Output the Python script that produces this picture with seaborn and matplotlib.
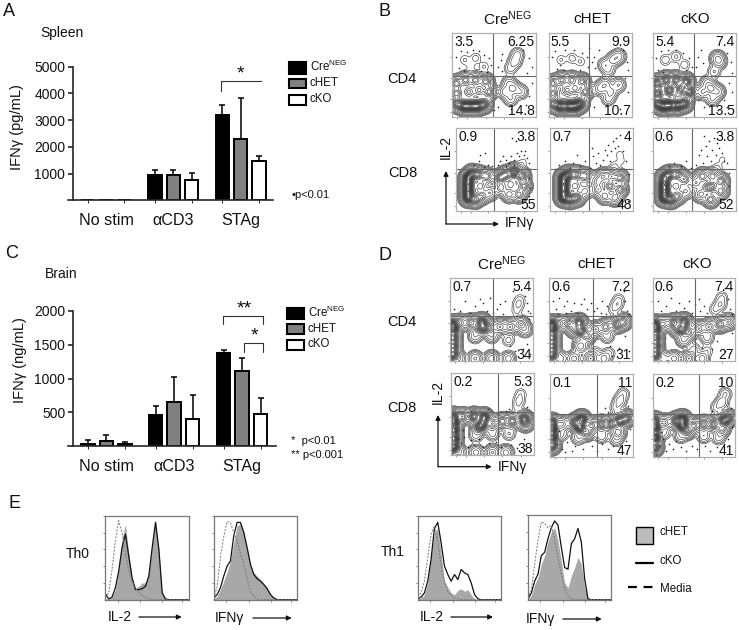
import matplotlib
matplotlib.use("Agg")
import matplotlib.pyplot as plt
import numpy as np
import pandas as pd
import seaborn as sns

# ---------------------------------------------------------
# 1. DATA
# ---------------------------------------------------------
stims = ["No stim", "αCD3", "STAg"]
genotypes = ["CreNEG", "cHET", "cKO"]

spleen_ticks = [1000, 2000, 3000, 4000, 5000]
spleen_neg = [0, 950, 3200]
spleen_het = [0, 950, 2300]
spleen_ko = [0, 760, 1480]
spleen_neg_top = [0, 1120, 3570]
spleen_het_top = [0, 1120, 3840]
spleen_ko_top = [0, 1020, 1670]

brain_ticks = [500, 1000, 1500, 2000]
brain_neg = [40, 470, 1380]
brain_het = [75, 660, 1110]
brain_ko = [40, 400, 480]
brain_neg_top = [90, 600, 1430]
brain_het_top = [160, 1020, 1310]
brain_ko_top = [70, 760, 710]

# flow plots: density clusters (x %, y %, weight) and loose events (x %, y %)
b_cd4_neg = [(5, 16, 3), (14, 13, 5), (22, 13, 5), (30, 13, 5), (38, 15, 3), (5, 28, 2), (5, 40, 2), (16, 44, 2), (28, 44, 2),
             (40, 42, 2), (44, 30, 2), (20, 30, 1.5), (32, 32, 1.5), (64, 30, .5), (73, 34, .8), (70, 22, .3), (82, 30, .3),
             (68, 40, .3), (75, 66, .25), (78, 74, .2), (70, 58, .1), (15, 68, .03), (28, 70, .04), (38, 60, .03), (22, 60, .02)]
b_cd4_neg_dots = [(5, 72), (10, 78), (18, 77), (25, 80), (32, 78), (38, 74), (44, 70), (47, 62), (8, 58), (14, 55), (35, 55),
                  (42, 54), (55, 60), (58, 68), (60, 75), (85, 80), (92, 70), (95, 60), (90, 52), (60, 55), (96, 40), (92, 25),
                  (55, 12), (70, 10), (50, 8), (88, 14)]
b_cd4_het = [(5, 16, 3), (14, 13, 5), (24, 13, 5), (32, 13, 5), (38, 16, 3), (5, 28, 2), (5, 40, 2), (16, 44, 2), (28, 44, 2),
             (40, 42, 2), (44, 30, 2), (22, 32, 1.5), (32, 34, 1.5), (62, 34, .4), (68, 38, .6), (75, 30, .4), (84, 38, .3),
             (72, 22, .2), (78, 68, .5), (84, 72, .5), (68, 62, .25), (72, 56, .15), (15, 68, .03), (28, 70, .04), (38, 66, .03)]
b_cd4_het_dots = [(4, 72), (8, 78), (14, 62), (20, 80), (30, 80), (40, 76), (46, 72), (47, 60), (10, 57), (18, 56), (38, 56),
                  (52, 66), (55, 72), (56, 58), (90, 80), (94, 66), (96, 56), (92, 46), (95, 30), (55, 12), (70, 14), (86, 10),
                  (60, 80), (48, 82)]
b_cd4_ko = [(5, 16, 2), (12, 13, 3), (20, 14, 3), (30, 14, 3), (38, 16, 2), (5, 28, 2), (5, 40, 2), (16, 44, 2), (28, 44, 2),
            (40, 42, 2), (44, 30, 2), (20, 32, 2), (34, 34, 2), (30, 26, 1), (60, 30, .4), (70, 34, .7), (78, 30, .4),
            (66, 40, .3), (72, 22, .2), (78, 70, .35), (80, 66, .3), (74, 54, .08), (15, 68, .03), (28, 72, .04), (38, 62, .03)]
b_cd4_ko_dots = [(4, 70), (10, 78), (18, 80), (28, 80), (36, 76), (44, 70), (47, 60), (6, 56), (12, 54), (40, 56), (52, 60),
                 (55, 72), (58, 80), (60, 64), (90, 76), (94, 66), (96, 52), (92, 40), (96, 30), (86, 20), (62, 12), (78, 8),
                 (90, 12), (55, 20)]
b_cd8_neg = [(15, 16, 3), (15, 24, 3), (15, 32, 3), (15, 40, 3), (20, 45, 2), (28, 44, 1.5), (38, 42, 1), (24, 14, 1.5),
             (32, 18, 1), (42, 22, .6), (30, 30, .8), (55, 40, 1.5), (62, 44, 1.5), (72, 47, 2.5), (82, 42, 1.5), (84, 30, 1.2),
             (78, 20, 1), (66, 20, .8), (56, 28, .8), (68, 32, .5), (80, 54, .02), (84, 60, .008)]
b_cd8_neg_dots = [(22, 55), (28, 60), (35, 53), (40, 56), (44, 54), (30, 68), (36, 70), (52, 56), (55, 60), (58, 66), (62, 62),
                  (66, 58), (68, 66), (72, 62), (75, 70), (78, 66), (80, 72), (84, 68), (86, 72), (88, 64), (90, 58), (92, 50),
                  (70, 88), (74, 84), (62, 54), (72, 55), (90, 40), (92, 28), (90, 18)]
b_cd8_het = [(16, 16, 3), (16, 24, 3), (16, 32, 3), (16, 40, 3), (22, 44, 2), (32, 44, 1.5), (42, 42, 1), (24, 14, 2),
             (32, 16, 1.5), (30, 30, .8), (42, 24, .5), (58, 36, .7), (64, 42, .8), (74, 42, 1), (84, 40, 1.2), (84, 26, 1.2),
             (78, 16, .8), (66, 18, .8), (58, 26, .8), (72, 30, 1.2), (78, 54, .02), (84, 68, .012), (86, 60, .01)]
b_cd8_het_dots = [(10, 55), (18, 60), (24, 52), (28, 58), (32, 68), (36, 54), (42, 60), (48, 52), (52, 66), (55, 58), (58, 70),
                  (60, 55), (64, 62), (66, 74), (68, 68), (70, 80), (72, 60), (74, 72), (76, 84), (78, 76), (80, 88), (82, 78),
                  (84, 92), (88, 72), (92, 60), (50, 76), (6, 50), (95, 44), (92, 26), (94, 12)]
b_cd8_ko = [(14, 16, 3), (14, 24, 3), (14, 32, 3), (14, 40, 2), (20, 44, 2), (30, 44, 1.5), (38, 38, 1), (22, 14, 2),
            (30, 18, 1), (28, 30, .8), (40, 24, .4), (52, 34, .6), (60, 42, 1), (72, 42, 1), (82, 36, 1.2), (82, 24, 1),
            (70, 14, 1), (58, 20, .7), (66, 28, 1), (72, 30, 1.2), (78, 52, .02), (84, 62, .01)]
b_cd8_ko_dots = [(20, 54), (26, 58), (34, 54), (40, 60), (46, 52), (52, 56), (56, 68), (60, 58), (64, 78), (66, 66), (68, 84),
                 (70, 60), (72, 74), (74, 88), (76, 68), (78, 82), (80, 76), (82, 92), (84, 70), (86, 60), (90, 58), (92, 46),
                 (92, 30), (92, 14), (62, 90), (58, 74)]

d_cd4_neg = [(3, 8, 3), (3, 18, 3), (3, 28, 3), (3, 38, 3), (3, 44, 3), (12, 46, 1), (25, 46, 1.5), (38, 47, 2.5), (40, 40, 2.5),
             (33, 40, 1), (48, 40, 1), (60, 41, 1), (72, 41, 1), (85, 44, 1), (90, 38, .4), (50, 30, .2), (30, 30, .2),
             (70, 25, .06), (10, 3, .5), (30, 3, .5), (50, 3, .7), (70, 3, .3), (82, 68, .05), (80, 60, .025), (84, 74, .025)]
d_cd4_neg_dots = [(4, 62), (12, 60), (18, 72), (24, 58), (30, 66), (36, 74), (40, 70), (44, 60), (48, 76), (52, 58), (56, 62),
                  (60, 68), (64, 56), (66, 72), (92, 70), (94, 60), (96, 58), (90, 78), (76, 84), (95, 50), (92, 20), (88, 14),
                  (72, 18), (78, 12), (96, 8)]
d_cd4_het = [(3, 8, 3), (3, 18, 3), (3, 28, 3), (3, 38, 3), (3, 44, 3), (12, 45, 1), (24, 45, 1.5), (36, 46, 2.5), (38, 36, 2.5),
             (30, 38, 1), (46, 30, 1), (38, 18, .7), (56, 38, 1), (68, 41, 1.2), (82, 44, 1.8), (90, 47, 1.2), (70, 30, .15),
             (30, 3, .6), (50, 3, 1), (14, 3, .3), (66, 3, .3), (56, 10, .05), (72, 9, .06), (82, 68, .08), (78, 62, .04), (84, 74, .04)]
d_cd4_het_dots = [(4, 72), (8, 62), (12, 76), (18, 66), (22, 72), (26, 60), (30, 70), (34, 58), (38, 68), (42, 74), (46, 62),
                  (50, 70), (54, 60), (58, 64), (62, 58), (64, 72), (68, 56), (70, 66), (92, 72), (94, 60), (90, 84), (96, 56),
                  (74, 18), (84, 16), (92, 30), (76, 6), (96, 12), (20, 58), (10, 56)]
d_cd4_ko = [(3, 8, 3), (3, 18, 3), (3, 28, 3), (3, 38, 3), (3, 44, 3), (14, 45, 1), (26, 46, 2), (38, 47, 2.5), (36, 38, 2.5),
            (30, 38, 1), (44, 34, 1), (38, 26, .6), (56, 39, 1), (68, 41, 1), (82, 44, 1.4), (92, 47, 1), (66, 28, .15),
            (26, 3, .6), (44, 3, 1), (14, 3, .3), (60, 3, .3), (50, 14, .07), (66, 12, .04), (82, 68, .1), (76, 62, .05), (84, 76, .05)]
d_cd4_ko_dots = [(6, 72), (10, 60), (16, 66), (22, 76), (28, 60), (32, 70), (38, 64), (44, 72), (48, 58), (52, 68), (56, 74),
                 (58, 60), (62, 66), (66, 58), (92, 74), (94, 62), (96, 56), (88, 88), (72, 14), (78, 24), (88, 12), (60, 16),
                 (96, 34), (94, 10)]
d_cd8_neg = [(3, 10, 3), (3, 20, 3), (3, 30, 3), (3, 40, 3), (3, 47, 2), (14, 47, 1.2), (28, 47, 2), (40, 46, 2.5), (38, 38, 2),
             (34, 34, 1.5), (50, 38, 1), (62, 41, 1.2), (74, 41, 1.4), (88, 44, 2), (90, 38, .8), (50, 26, .12), (30, 24, .12),
             (70, 26, .08), (10, 3, .4), (30, 3, .5), (50, 3, .6), (66, 3, .5), (82, 66, .05), (80, 58, .025), (84, 74, .03)]
d_cd8_neg_dots = [(8, 20), (12, 14), (16, 22), (20, 10), (24, 18), (14, 30), (28, 12), (34, 20), (38, 10), (46, 14), (54, 16),
                  (60, 10), (72, 12), (80, 8), (88, 20), (92, 58), (70, 56), (66, 54), (44, 56), (24, 54)]
d_cd8_het = [(2, 14, 2), (2, 24, 3), (2, 34, 3), (2, 42, 2), (14, 40, .6), (30, 42, 1.5), (38, 46, 2.5), (36, 36, 2.5),
             (44, 30, 1), (50, 38, 1), (62, 40, 1.4), (74, 40, 1.6), (84, 44, 2), (92, 47, 1.5), (82, 30, .7), (34, 24, .15),
             (62, 26, .15), (80, 22, .12), (14, 28, .08), (84, 68, .12), (80, 60, .06), (88, 76, .06)]
d_cd8_het_dots = [(8, 16), (14, 10), (20, 18), (26, 8), (30, 14), (10, 32), (40, 10), (50, 14), (56, 8), (62, 16), (70, 10),
                  (76, 14), (84, 12), (92, 20), (96, 34), (70, 54), (66, 60), (94, 62), (18, 6)]
d_cd8_ko = [(2, 12, 2), (2, 24, 3), (2, 36, 3), (2, 44, 2), (14, 42, .8), (28, 44, 1.5), (36, 46, 2.5), (36, 38, 2.5),
            (42, 32, 1), (50, 38, 1), (62, 40, 1.2), (74, 40, 1.4), (86, 44, 2), (92, 47, 1.4), (84, 34, .8), (34, 26, .15),
            (62, 26, .15), (80, 24, .12), (14, 30, .08), (84, 66, .14), (78, 60, .06), (88, 76, .08)]
d_cd8_ko_dots = [(8, 14), (12, 22), (16, 8), (20, 16), (24, 10), (10, 30), (28, 20), (34, 12), (40, 8), (48, 14), (54, 10),
                 (64, 14), (70, 8), (78, 12), (86, 16), (92, 22), (95, 60), (72, 56), (96, 36), (4, 4)]

neg_cols_b = ["3.5", "6.25", "14.8"]
het_cols_b = ["5.5", "9.9", "10.7"]
ko_cols_b = ["5.4", "7.4", "13.5"]
neg_cd8_b = ["0.9", "3.8", "55"]
het_cd8_b = ["0.7", "4", "48"]
ko_cd8_b = ["0.6", "3.8", "52"]
neg_cols_d = ["0.7", "5.4", "34"]
het_cols_d = ["0.6", "7.2", "31"]
ko_cols_d = ["0.6", "7.4", "27"]
neg_cd8_d = ["0.2", "5.3", "38"]
het_cd8_d = ["0.1", "11", "47"]
ko_cd8_d = ["0.2", "10", "41"]

# histograms, read every 4 % along the frame width
hist_x = list(range(0, 101, 4))
th0_il2_het = [1, 1, 3, 12, 36, 72, 90, 55, 26, 14, 16, 20, 20, 32, 68, 95, 60, 8, 1, 0, 0, 0, 0, 0, 0, 0]
th0_il2_ko = [7, 1, 3, 14, 34, 62, 78, 52, 26, 12, 12, 13, 16, 28, 62, 92, 60, 8, 1, 0, 0, 0, 0, 0, 0, 0]
th0_il2_media = [2, 8, 35, 70, 94, 80, 55, 35, 22, 14, 9, 5, 3, 1, 0, 0, 0, 0, 0, 0, 0, 0, 0, 0, 0, 0]
th0_ifn_het = [1, 4, 12, 22, 33, 46, 68, 88, 90, 80, 58, 40, 32, 28, 24, 19, 14, 6, 2, 0, 0, 0, 0, 0, 0, 0]
th0_ifn_ko = [2, 6, 14, 28, 40, 46, 76, 92, 92, 80, 62, 42, 30, 25, 22, 18, 13, 6, 2, 0, 0, 0, 0, 0, 0, 0]
th0_ifn_media = [2, 15, 50, 75, 93, 92, 80, 70, 55, 42, 25, 10, 4, 1, 0, 0, 0, 0, 0, 0, 0, 0, 0, 0, 0, 0]
th1_il2_het = [1, 2, 6, 20, 50, 80, 85, 55, 22, 15, 8, 6, 11, 13, 10, 12, 6, 1, 0, 0, 0, 0, 0, 0, 0, 0]
th1_il2_ko = [1, 3, 8, 22, 48, 85, 92, 68, 40, 30, 22, 30, 24, 36, 32, 30, 20, 6, 1, 0, 0, 0, 0, 0, 0, 0]
th1_il2_media = [3, 8, 22, 50, 78, 88, 70, 40, 22, 10, 5, 2, 1, 0, 0, 0, 0, 0, 0, 0, 0, 0, 0, 0, 0, 0]
th1_ifn_het = [1, 5, 18, 26, 42, 52, 68, 80, 85, 70, 45, 20, 14, 28, 38, 50, 42, 15, 1, 0, 0, 0, 0, 0, 0, 0]
th1_ifn_ko = [1, 8, 22, 30, 52, 56, 72, 85, 93, 88, 62, 38, 36, 66, 72, 84, 68, 25, 1, 0, 0, 0, 0, 0, 0, 0]
th1_ifn_media = [2, 12, 42, 70, 92, 90, 85, 88, 70, 50, 30, 12, 4, 1, 0, 0, 0, 0, 0, 0, 0, 0, 0, 0, 0, 0]

# ---------------------------------------------------------
# 2. SETUP AND HELPERS
# ---------------------------------------------------------
W, H = 739, 630
sns.set_style("ticks")
plt.rcParams["font.family"] = ["Liberation Sans", "DejaVu Sans"]
plt.rcParams["mathtext.default"] = "regular"

fig = plt.figure(figsize=(W / 100, H / 100), dpi=100)
CRE = "Cre$^{NEG}$"
FLOW_BW = 3.8
# few log-spaced levels for the faint areas, many more inside the dense ones
FLOW_LEVELS = np.concatenate([np.geomspace(0.002, 0.1, 6), np.linspace(0.16, 0.97, 14)])


def px_axes(left, top, right, bottom):
    return fig.add_axes([left / W, 1 - bottom / H, (right - left) / W, (bottom - top) / H])


# overlay in pixel coordinates, for labels, brackets and arrows
over = fig.add_axes([0, 0, 1, 1], zorder=20)
over.set_xlim(0, W)
over.set_ylim(H, 0)
over.axis("off")


def label(x, y, s, size=10, ha="left", **kw):
    over.text(x, y, s, fontsize=size, ha=ha, va="center", color="#111111", **kw)


def arrow(x0, y0, x1, y1):
    over.annotate("", xy=(x1, y1), xytext=(x0, y0),
                  arrowprops=dict(arrowstyle="-|>", color="#111111", lw=0.9, mutation_scale=7, shrinkA=0, shrinkB=0))


def bracket(x0, x1, y_top, y0, y1):
    over.plot([x0, x0, x1, x1], [y0, y_top, y_top, y1], color="#333333", lw=0.8)


def swatch(x0, y0, x1, y1, color, lw=1.5):
    over.add_patch(plt.Rectangle((x0, y0), x1 - x0, y1 - y0, facecolor=color, edgecolor="black", lw=lw))


def bar_panel(rect, xlim, ymax, ticks, values, tops):
    ax = px_axes(*rect)
    df = pd.DataFrame({
        "stim": stims * 3,
        "genotype": [g for g in genotypes for _ in stims],
        "value": [v for series in values for v in series],
    })
    sns.barplot(data=df, x="stim", y="value", hue="genotype", order=stims, hue_order=genotypes,
                palette=["black", "#808080", "white"], saturation=1, width=0.816, gap=0.27,
                edgecolor="black", linewidth=1.4, legend=False, errorbar=None, ax=ax)
    centres = []
    for cont, top in zip(ax.containers, tops):
        for bar, t in zip(cont, top):
            cx = bar.get_x() + bar.get_width() / 2
            centres.append(cx)
            if t > 0:
                ax.errorbar(cx, bar.get_height(), yerr=[[0], [t - bar.get_height()]], color="black",
                            elinewidth=1.1, capsize=2.4, capthick=1.1, zorder=1)
    ax.set_xlim(*xlim)
    ax.set_ylim(0, ymax)
    ax.set_yticks(ticks)
    ax.set_xticks(centres, minor=True)
    ax.tick_params(axis="x", which="major", length=0, labelsize=11.6, pad=9, colors="#111111")
    ax.tick_params(axis="x", which="minor", length=2, width=0.7)
    ax.tick_params(axis="y", length=3.5, width=1.1, labelsize=10, pad=2, colors="#111111")
    ax.set_xlabel("")
    ax.set_ylabel("")
    for side in ["top", "right"]:
        ax.spines[side].set_visible(False)
    for side in ["left", "bottom"]:
        ax.spines[side].set_linewidth(1.2)
    ax.spines["left"].set_position(("axes", 5 / (rect[2] - rect[0])))
    ax.patch.set_alpha(0)


def flow_panel(rect, vline, hline, blobs, dots, numbers):
    ax = px_axes(*rect)
    # density contours over the clusters
    grid = np.linspace(0, 100, 200)
    gx, gy = np.meshgrid(grid, grid)
    dens = sum(w * np.exp(-((gx - x) ** 2 + (gy - y) ** 2) / (2 * FLOW_BW ** 2)) for x, y, w in blobs)
    ax.contour(gx, gy, dens, levels=FLOW_LEVELS * dens.max(), colors="#2e2e2e", linewidths=0.42)
    dot_df = pd.DataFrame(dots, columns=["x", "y"])
    sns.scatterplot(data=dot_df, x="x", y="y", s=1.4, color="#222222", linewidth=0, ax=ax)
    ax.axvline(vline, color="#666666", lw=0.8)
    ax.axhline(hline, color="#666666", lw=0.8)
    ax.set_xlim(0, 100)
    ax.set_ylim(0, 100)
    ax.set_xlabel("")
    ax.set_ylabel("")
    ax.set_xticks([6, 18, 40, 62, 84])
    ax.set_yticks([6, 22, 46, 72])
    ax.tick_params(length=1.3, width=0.5, color="#777777", labelbottom=False, labelleft=False, pad=0)
    for spine in ax.spines.values():
        spine.set_color("#b0b0b0")
        spine.set_linewidth(0.9)
    ax.text(0.025, 0.89, numbers[0], transform=ax.transAxes, fontsize=10, ha="left", va="center", color="#111111")
    ax.text(0.985, 0.89, numbers[1], transform=ax.transAxes, fontsize=10, ha="right", va="center", color="#111111")
    ax.text(0.985, 0.07, numbers[2], transform=ax.transAxes, fontsize=10, ha="right", va="center", color="#111111")


def hist_panel(rect, het, ko, media):
    ax = px_axes(*rect)
    ax.fill_between(hist_x, het, color="#a8a8a8", lw=0)
    sns.lineplot(x=hist_x, y=ko, color="#111111", lw=0.9, errorbar=None, ax=ax)
    sns.lineplot(x=hist_x, y=media, color="#777777", lw=0.7, ls=(0, (2, 1.5)), errorbar=None, ax=ax)
    ax.set_xlim(0, 100)
    ax.set_ylim(0, 100)
    ax.set_xticks([15, 42, 68, 92])
    ax.set_yticks([20, 40, 60, 80, 100])
    ax.tick_params(length=1.3, width=0.5, color="#555555", labelbottom=False, labelleft=False, pad=0)
    for spine in ax.spines.values():
        spine.set_color("#777777")
        spine.set_linewidth(0.9)


# ---------------------------------------------------------
# 3. PANELS A AND C: BARS
# ---------------------------------------------------------
bar_panel((68, 66.7, 273, 200.3), (-0.565, 2.48), 5000, spleen_ticks,
          [spleen_neg, spleen_het, spleen_ko], [spleen_neg_top, spleen_het_top, spleen_ko_top])
bar_panel((68, 311, 276, 446.3), (-0.565, 2.5), 2000, brain_ticks,
          [brain_neg, brain_het, brain_ko], [brain_neg_top, brain_het_top, brain_ko_top])

label(3, 12, "A", 13)
label(40, 33, "Spleen", 10)
label(17, 127, "IFNγ (pg/mL)", 10.5, ha="center", rotation=90)
bracket(221, 261, 81, 91, 81)
label(240.5, 74, "*", 14, ha="center")
for (y0, y1), text_y, name in zip([(62, 74), (79, 88), (95, 105)], [66.7, 83, 99], [CRE, "cHET", "cKO"]):
    swatch(289, y0, 306, y1, {CRE: "black", "cHET": "#808080", "cKO": "white"}[name])
    label(310, text_y, name, 8.3)
label(291, 195, "•p<0.01", 8)

label(5, 254, "C", 13)
label(45, 274, "Brain", 10)
label(20, 360, "IFNγ (ng/mL)", 10.5, ha="center", rotation=90)
bracket(223, 263, 316, 324, 324)
bracket(244, 263, 343.3, 351.7, 351.7)
label(244, 309, "**", 14, ha="center")
label(254.7, 336, "*", 14, ha="center")
for (y0, y1), text_y, name in zip([(308, 319), (324, 334), (340, 350)], [312, 329, 344], [CRE, "cHET", "cKO"]):
    swatch(287, y0, 304, y1, {CRE: "black", "cHET": "#808080", "cKO": "white"}[name])
    label(308, text_y, name, 8.3)
label(291, 441, "*  p<0.01", 8)
label(291, 455, "** p<0.001", 8)

# ---------------------------------------------------------
# 4. PANELS B AND D: FLOW CONTOURS
# ---------------------------------------------------------
flow_panel((452.3, 33, 535.7, 117), 49, 49, b_cd4_neg, b_cd4_neg_dots, neg_cols_b)
flow_panel((548.7, 33, 631.7, 117), 49, 49, b_cd4_het, b_cd4_het_dots, het_cols_b)
flow_panel((653, 33, 735.7, 117), 49, 49, b_cd4_ko, b_cd4_ko_dots, ko_cols_b)
flow_panel((456, 128, 536.7, 211), 47, 50, b_cd8_neg, b_cd8_neg_dots, neg_cd8_b)
flow_panel((550.3, 128, 633, 211), 47, 50, b_cd8_het, b_cd8_het_dots, het_cd8_b)
flow_panel((652.7, 128, 735.7, 211), 47, 50, b_cd8_ko, b_cd8_ko_dots, ko_cd8_b)
flow_panel((450.3, 277.7, 533.3, 361), 52, 54, d_cd4_neg, d_cd4_neg_dots, neg_cols_d)
flow_panel((549.3, 277.7, 632, 361), 53, 54, d_cd4_het, d_cd4_het_dots, het_cols_d)
flow_panel((652.7, 277.7, 735, 361), 51, 54, d_cd4_ko, d_cd4_ko_dots, ko_cols_d)
flow_panel((451, 372.7, 534, 455), 57, 52, d_cd8_neg, d_cd8_neg_dots, neg_cd8_d)
flow_panel((550.3, 374.3, 633, 457.3), 57, 52, d_cd8_het, d_cd8_het_dots, het_cd8_d)
flow_panel((653, 374.3, 735, 457.3), 56, 52, d_cd8_ko, d_cd8_ko_dots, ko_cd8_d)

label(378, 12, "B", 13)
label(507.7, 19, CRE, 11, ha="center")
label(592.7, 19, "cHET", 11, ha="center")
label(695, 19, "cKO", 11, ha="center")
label(401.7, 79, "CD4", 10.5, ha="center")
label(403, 173, "CD8", 10.5, ha="center")
label(446, 147, "IL-2", 10, ha="center", rotation=90)
arrow(446, 224, 446, 171)
arrow(446, 224, 499, 224)
label(505, 223, "IFNγ", 10)

label(378, 255, "D", 13)
label(501.7, 264, CRE, 11, ha="center")
label(596.7, 264, "cHET", 11, ha="center")
label(697, 264, "cKO", 11, ha="center")
label(401.7, 321.7, "CD4", 10.5, ha="center")
label(401.7, 408, "CD8", 10.5, ha="center")
label(438, 392, "IL-2", 10, ha="center", rotation=90)
arrow(438, 466.7, 438, 415)
arrow(438, 466.7, 491.7, 466.7)
label(498, 467, "IFNγ", 10)

# ---------------------------------------------------------
# 5. PANEL E: HISTOGRAMS
# ---------------------------------------------------------
hist_panel((105.3, 515.7, 189, 599.7), th0_il2_het, th0_il2_ko, th0_il2_media)
hist_panel((213.7, 515.7, 297.3, 599.7), th0_ifn_het, th0_ifn_ko, th0_ifn_media)
hist_panel((417.7, 515.7, 501.3, 599.7), th1_il2_het, th1_il2_ko, th1_il2_media)
hist_panel((528, 515, 611.3, 599.7), th1_ifn_het, th1_ifn_ko, th1_ifn_media)

label(8, 504, "E", 13)
label(65.7, 554, "Th0", 10)
label(381, 551.7, "Th1", 10)
label(107.7, 617, "IL-2", 10)
arrow(139, 617, 181.7, 617)
label(215, 618, "IFNγ", 10)
arrow(253, 618, 291.7, 618)
label(420, 617, "IL-2", 10)
arrow(451, 617, 493, 617)
label(525.7, 619, "IFNγ", 10)
arrow(563, 619, 601.7, 619)

swatch(635.7, 527, 652.7, 543.7, "#bcbcbc", lw=1)
label(660, 531.7, "cHET", 8.3)
over.plot([635.7, 652.7], [563, 563], color="black", lw=1.6)
label(660, 561, "cKO", 8.3)
over.plot([628, 653], [586.7, 586.7], color="black", lw=1.6, ls=(0, (4, 3)))
label(660, 589, "Media", 8.3)

fig.savefig("out.png", dpi=100)
